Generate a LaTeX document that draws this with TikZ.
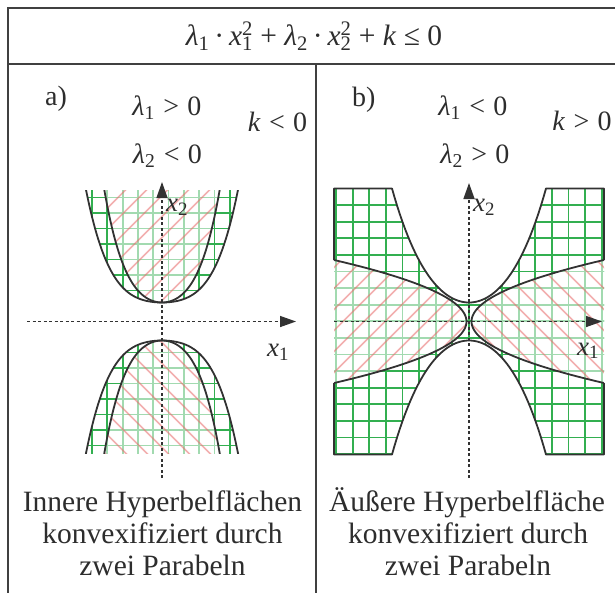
\documentclass[tikz,border=0pt]{standalone}
\usepackage{fontspec}
\setmainfont{Liberation Serif}
\usetikzlibrary{arrows.meta}
\definecolor{frameC}{RGB}{64,64,64}
\definecolor{curveC}{RGB}{50,50,50}
\definecolor{gridC}{RGB}{50,175,80}
\definecolor{hatchC}{RGB}{232,110,110}
\definecolor{textC}{RGB}{45,45,45}
\newcommand{\lamb}[1]{\textit{λ}\textsubscript{#1}}
\newcommand{\xsq}[1]{\textit{x}\rlap{\textsuperscript{2}}\textsubscript{#1}}
\newcommand{\xs}[1]{\textit{x}\textsubscript{#1}}
\newcommand{\rel}[1]{\hspace{0.3em}#1\hspace{0.3em}}
\begin{document}
\begin{tikzpicture}[x=1pt,y=-1pt,
  frame/.style={draw=frameC,line width=2pt},
  gridg/.style={gridC,line width=1.8pt},
  hatchl/.style={hatchC,line width=1.6pt,opacity=0.55},
  veil/.style={fill=white,opacity=0.55},
  curve/.style={draw=curveC,line width=1.8pt,line join=round},
  axis/.style={draw=curveC,line width=1.4pt,dash pattern=on 3pt off 2.5pt,-{Triangle[length=16pt,width=11pt]}},
  lbl/.style={text=textC,font=\fontsize{28}{32}\selectfont,inner sep=0pt},
  hdrtxt/.style={text=textC,font=\fontsize{29.5}{32}\selectfont,inner sep=0pt},
  axl/.style={text=textC,font=\fontsize{27}{30}\selectfont,inner sep=0pt},
  captxt/.style={text=textC,font=\fontsize{29.5}{32}\selectfont,inner sep=0pt}]
\useasboundingbox (0,0) rectangle (615,592);

% ---------------- panel a ----------------
\begin{scope}[shift={(162,321.5)},yscale=-1]
 \begin{scope}
  \clip (-140,-131.5) rectangle (140,131.5);
  \clip plot[domain=-0.8:0.8,samples=81] ({100*\x},{19+61.7*\x*\x+231*\x*\x*\x*\x}) -- cycle
        plot[domain=-0.8:0.8,samples=81] ({100*\x},{-19-61.7*\x*\x-231*\x*\x*\x*\x}) -- cycle;
  \foreach \k in {-6,...,5} \draw[gridg] ({6.5+15.3*\k},-140) -- ({6.5+15.3*\k},140);
  \foreach \k in {-9,...,9} \draw[gridg] (-140,{15.5*\k}) -- (140,{15.5*\k});
 \end{scope}
 \begin{scope}
  \clip (-140,-131.5) rectangle (140,131.5);
  \fill[veil] plot[domain=-0.6:0.6,samples=61] ({100*\x},{19+179*\x*\x+479*\x*\x*\x*\x}) -- cycle;
  \fill[veil] plot[domain=-0.6:0.6,samples=61] ({100*\x},{-19-179*\x*\x-479*\x*\x*\x*\x}) -- cycle;
  \begin{scope}
   \clip plot[domain=-0.6:0.6,samples=61] ({100*\x},{19+179*\x*\x+479*\x*\x*\x*\x}) -- cycle;
   \foreach \c in {-210,-189,...,210} \draw[hatchl] ({\c-150},-150) -- ({\c+150},150);
  \end{scope}
  \begin{scope}
   \clip plot[domain=-0.6:0.6,samples=61] ({100*\x},{-19-179*\x*\x-479*\x*\x*\x*\x}) -- cycle;
   \foreach \c in {-210,-189,...,210} \draw[hatchl] ({\c-150},150) -- ({\c+150},-150);
  \end{scope}
  \draw[curve] plot[domain=-0.8:0.8,samples=81] ({100*\x},{19+61.7*\x*\x+231*\x*\x*\x*\x});
  \draw[curve] plot[domain=-0.8:0.8,samples=81] ({100*\x},{-19-61.7*\x*\x-231*\x*\x*\x*\x});
  \draw[curve] plot[domain=-0.6:0.6,samples=61] ({100*\x},{19+179*\x*\x+479*\x*\x*\x*\x});
  \draw[curve] plot[domain=-0.6:0.6,samples=61] ({100*\x},{-19-179*\x*\x-479*\x*\x*\x*\x});
 \end{scope}
\end{scope}

% ---------------- panel b ----------------
\begin{scope}[shift={(469,321.5)},yscale=-1]
 \begin{scope}
  \clip (-135,133) -- (-77,133) -- plot[domain=-0.77:0.77,samples=61] ({100*\x},{19+152.4*\x*\x+67.3*\x*\x*\x*\x}) -- (135,133) -- (135,-133) -- (77,-133) -- plot[domain=0.77:-0.77,samples=61] ({100*\x},{-19-152.4*\x*\x-67.3*\x*\x*\x*\x}) -- (-135,-133) -- cycle;
  \foreach \k in {0,...,16} \draw[gridg] ({-133+16.6*\k},-140) -- ({-133+16.6*\k},140);
  \foreach \k in {0,...,16} \draw[gridg] (-140,{133-16.6*\k}) -- (140,{133-16.6*\k});
 \end{scope}
 \fill[veil] (135,61.5) -- plot[domain=61.5:-61.5,samples=61] ({2.5+0.035*\x*\x},{\x}) -- cycle;
 \fill[veil] (-135,61.5) -- plot[domain=61.5:-61.5,samples=61] ({-2.5-0.035*\x*\x},{\x}) -- cycle;
 \begin{scope}
  \clip (-135,61.5) -- plot[domain=61.5:-61.5,samples=61] ({-2.5-0.035*\x*\x},{\x}) -- cycle;
  \foreach \c in {-210,-189,...,210} \draw[hatchl] ({\c-150},-150) -- ({\c+150},150);
 \end{scope}
 \begin{scope}
  \clip (135,61.5) -- plot[domain=61.5:-61.5,samples=61] ({2.5+0.035*\x*\x},{\x}) -- cycle;
  \foreach \c in {-210,-189,...,210} \draw[hatchl] ({\c-150},150) -- ({\c+150},-150);
 \end{scope}
 \draw[curve] (-135,61.5) -- (-135,133) -- (-77,133) -- plot[domain=-0.77:0.77,samples=61] ({100*\x},{19+152.4*\x*\x+67.3*\x*\x*\x*\x}) -- (135,133) -- (135,61.5);
 \draw[curve] (135,-61.5) -- (135,-133) -- (77,-133) -- plot[domain=0.77:-0.77,samples=61] ({100*\x},{-19-152.4*\x*\x-67.3*\x*\x*\x*\x}) -- (-135,-133) -- (-135,-61.5);
 \draw[curve] plot[domain=61.5:-61.5,samples=61] ({2.5+0.035*\x*\x},{\x});
 \draw[curve] plot[domain=61.5:-61.5,samples=61] ({-2.5-0.035*\x*\x},{\x});
\end{scope}

% ---------------- axes ----------------
\coordinate (ahs) at (27,321.5);  \coordinate (ahe) at (296,321.5);
\coordinate (avs) at (162,478);   \coordinate (ave) at (162,182);
\coordinate (bhs) at (334,321.5); \coordinate (bhe) at (602,321.5);
\coordinate (bvs) at (469,478);   \coordinate (bve) at (469,183);
\draw[axis] (ahs) -- (ahe);
\draw[axis] (avs) -- (ave);
\draw[axis] (bhs) -- (bhe);
\draw[axis] (bvs) -- (bve);

% ---------------- frame ----------------
\coordinate (f1) at (8,600); \coordinate (f2) at (8,8); \coordinate (f3) at (620,8);
\coordinate (h1) at (8,63.5); \coordinate (h2) at (620,63.5);
\coordinate (d1) at (315.5,63.5); \coordinate (d2) at (315.5,600);
\draw[frame] (f1) -- (f2) -- (f3);
\draw[frame] (h1) -- (h2);
\draw[frame] (d1) -- (d2);

% ---------------- texts ----------------
\node[hdrtxt,anchor=base] (hdr) at (314,45) {\lamb{1}\,·\,\xsq{1} + \lamb{2}\,·\,\xsq{2} + \textit{k} ≤ 0};

\node[lbl,anchor=base west] (la) at (45,105.5) {a)};
\node[lbl,anchor=base] (l1a) at (167,115) {\lamb{1}\rel{>}0};
\node[lbl,anchor=base] (l2a) at (167.5,163.5) {\lamb{2}\rel{<}0};
\node[lbl,anchor=base] (ka) at (277.5,131.5) {\textit{k}\rel{<}0};

\node[lbl,anchor=base west] (lb) at (352,106.5) {b)};
\node[lbl,anchor=base] (l1b) at (473,115) {\lamb{1}\rel{<}0};
\node[lbl,anchor=base] (l2b) at (475,163.5) {\lamb{2}\rel{>}0};
\node[lbl,anchor=base] (kb) at (582,130.5) {\textit{k}\rel{>}0};

\node[axl,anchor=base west] (x2a) at (166,211.5) {\xs{2}};
\node[axl,anchor=base west] (x1a) at (267,356.5) {\xs{1}};
\node[axl,anchor=base west] (x2b) at (473,211.5) {\xs{2}};
\node[axl,anchor=base west] (x1b) at (577,355) {\xs{1}};

\node[captxt,anchor=base] (ca1) at (162.5,511.7) {Innere Hyperbelflächen};
\node[captxt,anchor=base] (ca2) at (162.5,543.3) {konvexifiziert durch};
\node[captxt,anchor=base] (ca3) at (162.5,575) {zwei Parabeln};
\node[captxt,anchor=base] (cb1) at (467,511.7) {Äußere Hyperbelfläche};
\node[captxt,anchor=base] (cb2) at (468,543.3) {konvexifiziert durch};
\node[captxt,anchor=base] (cb3) at (468,575.5) {zwei Parabeln};
\end{tikzpicture}
\end{document}
